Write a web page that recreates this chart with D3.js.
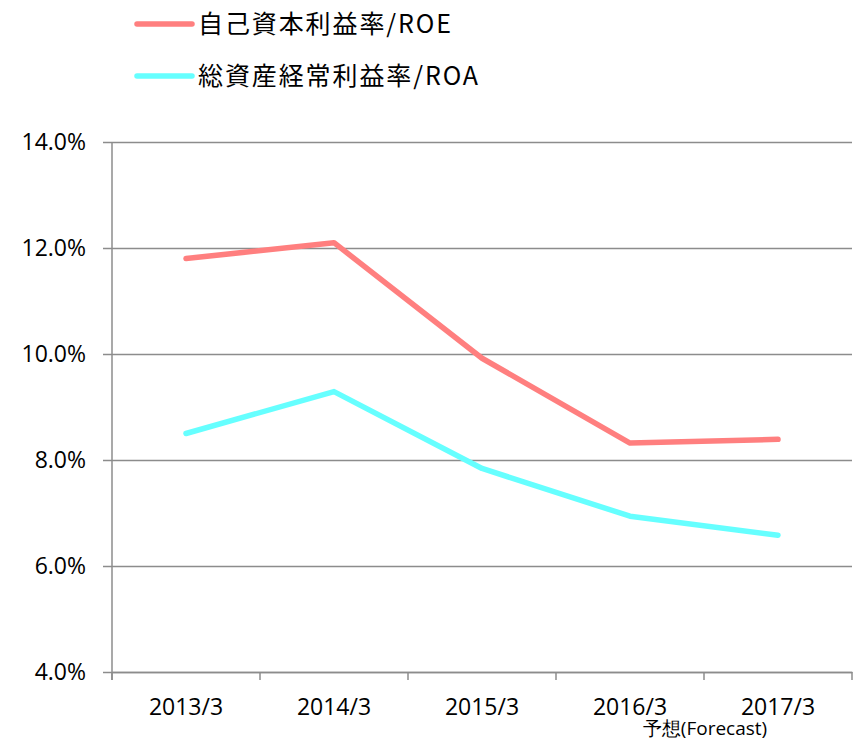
<!DOCTYPE html>
<meta charset="utf-8">
<style>
  body { margin: 0; background: white; }
  .tick text, .label { font-family: "Open Sans", "Noto Sans", sans-serif; fill: black; }
  .legend text { font-family: "Noto Sans CJK JP", sans-serif; font-size: 25px; fill: black; letter-spacing: 1.9px; }
</style>
<body>
<script src="https://cdn.jsdelivr.net/npm/d3@7"></script>
<script>

// data
const years = ["2013/3", "2014/3", "2015/3", "2016/3", "2017/3"]
const roe = [11.8, 12.1, 9.92, 8.32, 8.39]
const roa = [8.5, 9.29, 7.84, 6.94, 6.58]
const yTicks = [4, 6, 8, 10, 12, 14]
const seriesNames = ["自己資本利益率/ROE", "総資産経常利益率/ROA"]

const colors = {roe: "#ff7f7f", roa: "#66ffff", grid: "#8c8c8c"}

const width = 855, height = 745
const margin = {top: 142, left: 112, right: 3, bottom: 73}
const plotW = width - margin.left - margin.right,
      plotH = height - margin.top - margin.bottom

const svg = d3.select("body").append("svg")
    .attr("width", width)
    .attr("height", height)

const x = d3.scaleBand().domain(years).range([0, plotW])
const y = d3.scaleLinear().domain([4, 14]).range([plotH, 0])

const g = svg.append("g")
    .attr("transform", `translate(${margin.left}, ${margin.top})`)

// gridlines + y axis
const yAxis = g.append("g")
  .call(d3.axisLeft(y).tickValues(yTicks).tickFormat(d => d.toFixed(1) + "%").tickSize(-plotW).tickSizeOuter(0))
yAxis.select(".domain").remove()
yAxis.selectAll(".tick line")
    .attr("x1", -9)
    .attr("stroke", colors.grid)
    .attr("stroke-width", 1.5)
yAxis.selectAll(".tick text")
    .attr("x", -26)
    .attr("font-size", 23)

// vertical axis line
g.append("line")
    .attr("x1", 0).attr("x2", 0)
    .attr("y1", 0).attr("y2", plotH + 8)
    .attr("stroke", colors.grid)
    .attr("stroke-width", 1.5)

// x axis
const xAxis = g.append("g")
    .attr("transform", `translate(0, ${plotH})`)
    .call(d3.axisBottom(x).tickSize(0))
xAxis.select(".domain").attr("stroke", colors.grid).attr("stroke-width", 1.5)
xAxis.selectAll(".tick text")
    .attr("y", 27)
    .attr("font-size", 23)

// x tick marks on band edges
g.selectAll(".xtick")
  .data(years.concat(["end"]))
  .enter().append("line")
    .attr("x1", (d, i) => i * x.step())
    .attr("x2", (d, i) => i * x.step())
    .attr("y1", plotH)
    .attr("y2", plotH + 8)
    .attr("stroke", colors.grid)
    .attr("stroke-width", 1.5)

g.append("text")
    .attr("class", "label")
    .attr("x", x("2016/3") + x.bandwidth() + 1)
    .attr("y", plotH + 63)
    .attr("text-anchor", "middle")
    .attr("font-size", 19)
    .text("予想(Forecast)")

// lines
const line = d3.line()
    .x((d, i) => x(years[i]) + x.bandwidth() / 2)
    .y(d => y(d))

;[[roa, colors.roa], [roe, colors.roe]].forEach(([vals, c]) => {
  g.append("path")
      .datum(vals)
      .attr("d", line)
      .attr("fill", "none")
      .attr("stroke", c)
      .attr("stroke-width", 5.5)
      .attr("stroke-linecap", "round")
      .attr("stroke-linejoin", "round")
})

// legend
const legend = svg.append("g").attr("class", "legend")
const legendItems = legend.selectAll("g")
  .data([[seriesNames[0], colors.roe], [seriesNames[1], colors.roa]])
  .enter().append("g")
    .attr("transform", (d, i) => `translate(137, ${24 + i * 52})`)

legendItems.append("line")
    .attr("x1", 0).attr("x2", 55)
    .attr("stroke", d => d[1])
    .attr("stroke-width", 5.5)
    .attr("stroke-linecap", "round")

legendItems.append("text")
    .attr("x", 61)
    .attr("y", 9)
    .text(d => d[0])

</script>
</body>
